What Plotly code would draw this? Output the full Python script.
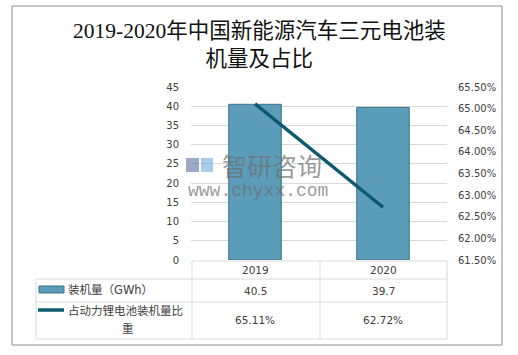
import plotly.graph_objects as go

# ---- data ----
years = ["2019", "2020"]
capacity_gwh = [40.5, 39.7]
share_pct = [65.11, 62.72]
bar_name = "装机量（GWh）"
line_name_1 = "占动力锂电池装机量比"
line_name_2 = "重"
title_text = "2019-2020年中国新能源汽车三元电池装<br>机量及占比"
left_ticks = [0, 5, 10, 15, 20, 25, 30, 35, 40, 45]
right_ticks = [61.5, 62.0, 62.5, 63.0, 63.5, 64.0, 64.5, 65.0, 65.5]

W, H = 518, 355
L, R, T, B = 191, 447, 87, 260  # plot area in pixels


def px(x):
    return (x - L) / (R - L)


def py(y):
    return (B - y) / (B - T)


BAR_COLOR = "#5b9cb9"
BAR_EDGE = "#3d6f86"
LINE_COLOR = "#0d5a6e"
GRID = "#d9d9d9"
TXT = "#404040"
TICKFONT = dict(family="DejaVu Sans, Noto Sans CJK SC", size=10, color=TXT)

fig = go.Figure()
fig.add_trace(go.Bar(
    x=years, y=capacity_gwh, name=bar_name, width=0.41,
    marker=dict(color=BAR_COLOR, line=dict(color=BAR_EDGE, width=1)),
    yaxis="y",
))
fig.add_trace(go.Scatter(
    x=years, y=share_pct, name=line_name_1 + line_name_2, mode="lines",
    line=dict(color=LINE_COLOR, width=3.5), yaxis="y2",
))

fig.update_layout(
    width=W, height=H,
    margin=dict(l=L, r=W - R, t=T, b=H - B, pad=0),
    paper_bgcolor="white", plot_bgcolor="white",
    showlegend=False,
    xaxis=dict(type="category", range=[-0.5, 1.5], showticklabels=False,
               showgrid=False, zeroline=False, showline=False, ticks=""),
    yaxis=dict(range=[0, 45], tickvals=left_ticks, showgrid=True, gridcolor=GRID,
               gridwidth=1, zeroline=False, showline=False, ticks="",
               tickfont=TICKFONT, ticklabelstandoff=11),
    yaxis2=dict(range=[61.5, 65.5], tickvals=right_ticks,
                ticktext=[f"{v:.2f}%" for v in right_ticks],
                overlaying="y", side="right", showgrid=False, zeroline=False,
                showline=False, ticks="", tickfont=TICKFONT, ticklabelstandoff=10),
    font=dict(family="DejaVu Sans, Noto Sans CJK SC", color=TXT),
)

shapes = []
# outer border
shapes.append(dict(type="rect", xref="paper", yref="paper",
                   x0=px(12), x1=px(502), y0=py(6), y1=py(345),
                   line=dict(color="#8c8c8c", width=1), fillcolor="rgba(0,0,0,0)", layer="below"))


def hline(y, x0, x1):
    shapes.append(dict(type="line", xref="paper", yref="paper", x0=px(x0), x1=px(x1),
                       y0=py(y), y1=py(y), line=dict(color=GRID, width=1)))


def vline(x, y0, y1):
    shapes.append(dict(type="line", xref="paper", yref="paper", x0=px(x), x1=px(x),
                       y0=py(y0), y1=py(y1), line=dict(color=GRID, width=1)))


hline(261, 192, 447)
hline(279, 36, 447)
hline(302, 36, 447)
hline(339, 36, 447)
vline(36, 279, 339)
vline(192, 261, 339)
vline(320, 261, 339)
vline(447, 261, 339)

# legend keys in table
shapes.append(dict(type="rect", xref="paper", yref="paper", x0=px(39), x1=px(64),
                   y0=py(293), y1=py(286), fillcolor=BAR_COLOR,
                   line=dict(color=BAR_EDGE, width=1)))
shapes.append(dict(type="line", xref="paper", yref="paper", x0=px(38), x1=px(64),
                   y0=py(310), y1=py(310), line=dict(color=LINE_COLOR, width=3.5)))

ann = []
TF = dict(family="DejaVu Sans, Noto Sans CJK SC", size=10.5, color=TXT)
TFC = dict(family="DejaVu Sans, Noto Sans CJK SC", size=11.5, color=TXT)
for i, yr in enumerate(years):
    ann.append(dict(x=i, xref="x", y=py(270), yref="paper", text=yr, showarrow=False,
                    font=TF, xanchor="center", yanchor="middle"))
    ann.append(dict(x=i, xref="x", y=py(291), yref="paper", text=f"{capacity_gwh[i]:.1f}",
                    showarrow=False, font=TF, xanchor="center", yanchor="middle"))
    ann.append(dict(x=i, xref="x", y=py(320), yref="paper", text=f"{share_pct[i]:.2f}%",
                    showarrow=False, font=TF, xanchor="center", yanchor="middle"))

ann.append(dict(x=px(66), xref="paper", y=py(290), yref="paper", text=bar_name,
                showarrow=False, font=TFC, xanchor="left", yanchor="middle"))
ann.append(dict(x=px(66), xref="paper", y=py(311), yref="paper", text=line_name_1,
                showarrow=False, font=TFC, xanchor="left", yanchor="middle"))
ann.append(dict(x=px(128), xref="paper", y=py(329), yref="paper", text=line_name_2,
                showarrow=False, font=TFC, xanchor="center", yanchor="middle"))

# title
ann.append(dict(x=px(259), xref="paper", y=py(45), yref="paper", text=title_text,
                showarrow=False, align="center", xanchor="center", yanchor="middle",
                font=dict(family="Liberation Serif, Noto Sans CJK SC", size=21.5,
                          color="#111111")))

# watermark
ann.append(dict(x=px(272), xref="paper", y=py(165), yref="paper", text="智研咨询",
                showarrow=False, xanchor="center", yanchor="middle",
                font=dict(family="Noto Sans CJK SC", size=25, color="rgba(110,110,110,0.7)")))
ann.append(dict(x=px(258), xref="paper", y=py(191), yref="paper", text="www.chyxx.com",
                showarrow=False, xanchor="center", yanchor="middle",
                font=dict(family="Liberation Mono", size=18, color="rgba(110,110,110,0.7)")))
# logo blocks
shapes.append(dict(type="rect", xref="paper", yref="paper", x0=px(186), x1=px(199),
                   y0=py(172), y1=py(158), fillcolor="rgba(90,110,160,0.6)", line=dict(width=0)))
shapes.append(dict(type="rect", xref="paper", yref="paper", x0=px(201), x1=px(213),
                   y0=py(172), y1=py(158), fillcolor="rgba(110,170,220,0.6)", line=dict(width=0)))

fig.update_layout(shapes=shapes, annotations=ann)
fig.write_html("out.html", config={"displayModeBar": False},
               post_script="document.body.style.margin='0';")
